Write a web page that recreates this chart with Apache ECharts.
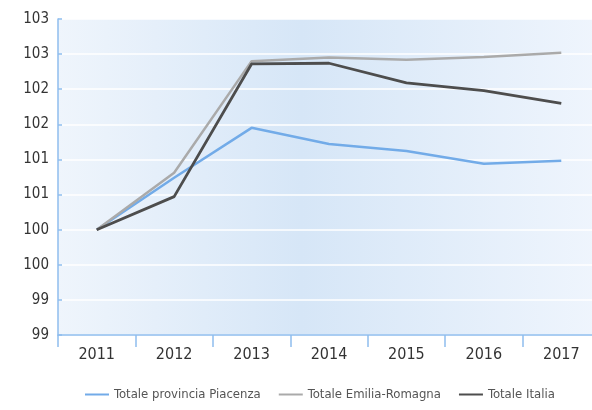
<!DOCTYPE html>
<html>
<head>
<meta charset="utf-8">
<script src="https://cdn.jsdelivr.net/npm/echarts@6/dist/echarts.min.js"></script>
<style>
  html, body { margin: 0; padding: 0; background: #fff; }
  #chart { width: 592px; height: 410px; }
</style>
</head>
<body>
<div id="chart"></div>
<script>
// anni
var years = ['2011', '2012', '2013', '2014', '2015', '2016', '2017'];
// indici (2011 = 100)
var piacenza = [100, 100.74, 101.45, 101.22, 101.12, 100.94, 100.98];
var emiliaRomagna = [100, 100.81, 102.40, 102.45, 102.42, 102.46, 102.52];
var italia = [100, 100.47, 102.36, 102.37, 102.09, 101.98, 101.80];

var seriesNames = ['Totale provincia Piacenza', 'Totale Emilia-Romagna', 'Totale Italia'];
var seriesColors = ['#72abe8', '#aaaaaa', '#4d4d4d'];

var font = "'Liberation Sans Narrow', 'DejaVu Sans Condensed', 'Roboto', sans-serif";
var axisBlue = '#8fbdee';

var chart = echarts.init(document.getElementById('chart'));

function lineSeries(i, data) {
    return {
        name: seriesNames[i],
        type: 'line',
        data: data,
        symbol: 'none',
        lineStyle: { color: seriesColors[i], width: i == 2 ? 2.8 : 2.5 },
        itemStyle: { color: seriesColors[i] },
        z: 3 + i
    };
}

var option = {
    animation: false,
    grid: {
        left: 58,
        top: 19,
        width: 542,
        height: 316,
        outerBoundsMode: 'none',
        containLabel: false,
        show: true,
        borderWidth: 0,
        backgroundColor: {
            type: 'linear', x: 0, y: 0, x2: 1, y2: 0,
            colorStops: [
                { offset: 0, color: '#eff5fc' },
                { offset: 0.45, color: '#d6e6f7' },
                { offset: 1, color: '#eff5fd' }
            ]
        }
    },
    legend: {
        bottom: 4,
        left: 80,
        itemWidth: 24,
        itemHeight: 10,
        itemGap: 18,
        icon: 'path://M0,4 L24,4 L24,6 L0,6 Z',
        textStyle: { fontFamily: font, fontSize: 13, color: '#555' },
        data: seriesNames.map(function(n, i) {
            return { name: n, itemStyle: { color: seriesColors[i] } };
        })
    },
    xAxis: {
        type: 'category',
        data: years,
        boundaryGap: true,
        axisLine: { lineStyle: { color: axisBlue, width: 1.5 } },
        axisTick: { show: true, length: 12, lineStyle: { color: axisBlue, width: 1.5 } },
        axisLabel: { fontFamily: font, fontSize: 16, color: '#333', margin: 12 },
        splitLine: { show: false }
    },
    yAxis: {
        type: 'value',
        min: 98.5,
        max: 103,
        interval: 0.5,
        axisLine: { show: true, lineStyle: { color: axisBlue, width: 1.5 } },
        axisTick: { show: true, inside: true, length: 4, lineStyle: { color: axisBlue, width: 1.5 } },
        axisLabel: {
            fontFamily: font, fontSize: 15, color: '#333', margin: 9,
            formatter: function(v) { return Math.round(v); }
        },
        splitLine: { show: true, lineStyle: { color: '#ffffff', width: 1.5 } }
    },
    series: [
        lineSeries(0, piacenza),
        lineSeries(1, emiliaRomagna),
        lineSeries(2, italia)
    ]
};

chart.setOption(option);
</script>
</body>
</html>
